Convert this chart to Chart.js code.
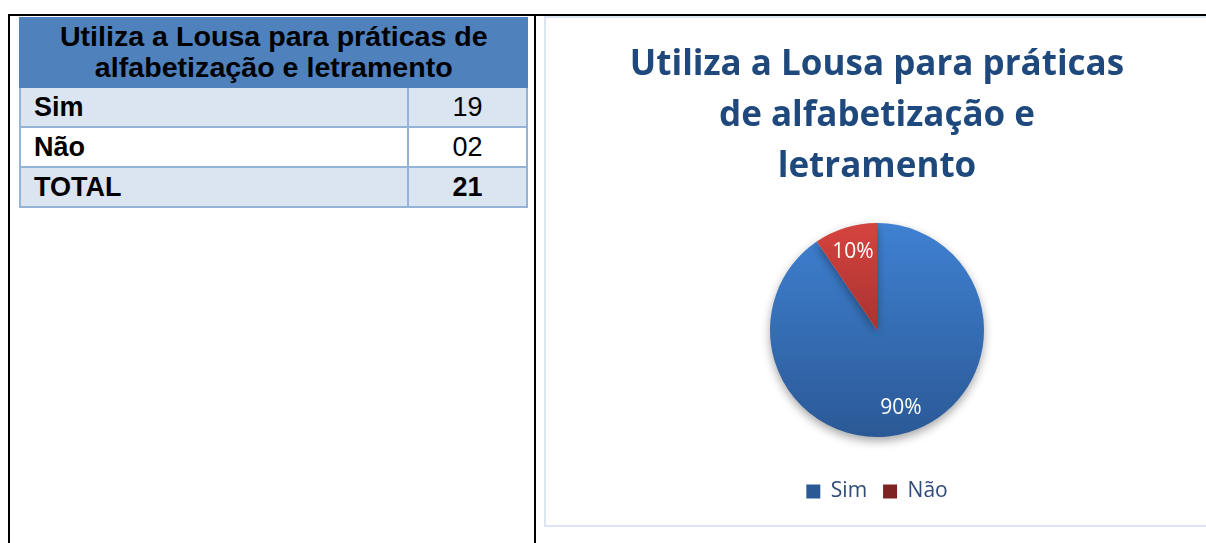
<!DOCTYPE html>
<html>
<head>
<meta charset="utf-8">
<script src="https://cdn.jsdelivr.net/npm/chart.js@4.4.1/dist/chart.umd.min.js"></script>
<style>
  html, body { margin: 0; padding: 0; background: #fff; width: 1206px; height: 543px; overflow: hidden; }
  .rule { position: absolute; background: #000; }
  #tbl {
    position: absolute; left: 19px; top: 17px; width: 507px;
    border-collapse: collapse; table-layout: fixed;
    font-family: "Liberation Sans", Arial, sans-serif; font-size: 27px; color: #000;
  }
  #tbl th {
    background: #4F81BD; font-weight: bold; height: 67px; padding: 0;
    line-height: 31px; text-align: center; border: 2px solid #4F81BD;
  }
  #tbl th span { display: inline-block; transform: scaleX(1.06); }
  #tbl td { border: 2px solid #95B3D7; height: 38px; padding: 0; line-height: 28px; }
  #tbl td.lbl { font-weight: bold; padding-left: 13px; }
  #tbl td.val { text-align: center; }
  #tbl tr.shade td { background: #DBE5F1; }
  #tbl tr.total td { font-weight: bold; }
  #box {
    position: absolute; left: 544px; top: 16px; width: 662px; height: 507px;
    border: 2px solid #DAE4F2;
  }
</style>
</head>
<body>
<div class="rule" style="left:9px; top:14px; width:1197px; height:2px;"></div>
<div class="rule" style="left:8px; top:14px; width:2px; height:529px;"></div>
<div class="rule" style="left:534px; top:14px; width:2px; height:529px;"></div>

<table id="tbl">
  <colgroup><col style="width:388px"><col style="width:119px"></colgroup>
  <thead><tr><th colspan="2" id="tblHead"></th></tr></thead>
  <tbody id="tblBody"></tbody>
</table>

<div id="box"><canvas id="pieChart" width="662" height="507"></canvas></div>

<script>
// dados
const tableTitle = ['Utiliza a Lousa para práticas de', 'alfabetização e letramento'];
const chartTitle = ['Utiliza a Lousa para práticas', 'de alfabetização e', 'letramento'];
const categories = ['Sim', 'Não'];
const counts = [19, 2];
const countLabels = ['19', '02'];
const totalLabel = 'TOTAL';
const totalValue = 21;

// cores (topo / base do gradiente)
const topColors = ['#3F81D2', '#D5433F'];
const bottomColors = ['#2B5996', '#7E2322'];
const PIE_R = 107;

document.addEventListener("DOMContentLoaded", () => {
  // tabela da esquerda
  document.getElementById('tblHead').innerHTML = tableTitle.map(t => '<span>' + t + '</span>').join('<br>');
  const body = document.getElementById('tblBody');
  const rows = categories.map((c, i) => [c, countLabels[i], i % 2 === 0 ? 'shade' : '']);
  rows.push([totalLabel, String(totalValue), 'shade total']);
  rows.forEach(r => {
    const tr = document.createElement('tr');
    tr.className = r[2];
    tr.innerHTML = '<td class="lbl">' + r[0] + '</td><td class="val">' + r[1] + '</td>';
    body.appendChild(tr);
  });

  const total = counts.reduce((a, b) => a + b, 0);

  const fill = (c) => {
    const area = c.chart.chartArea;
    if (!area) return topColors[c.dataIndex];
    const cy = (area.top + area.bottom) / 2;
    const g = c.chart.ctx.createLinearGradient(0, cy - PIE_R, 0, cy + PIE_R);
    g.addColorStop(0, topColors[c.dataIndex]);
    g.addColorStop(1, bottomColors[c.dataIndex]);
    return g;
  };

  // sombra + rótulos de porcentagem
  const pieDecor = {
    id: 'pieDecor',
    beforeDatasetsDraw(chart) {
      const ctx = chart.ctx;
      ctx.save();
      ctx.shadowColor = 'rgba(0,0,0,0.35)';
      ctx.shadowBlur = 10;
      ctx.shadowOffsetY = 4;
    },
    afterDatasetsDraw(chart) {
      const ctx = chart.ctx;
      ctx.restore();
      ctx.save();
      ctx.fillStyle = '#fff';
      ctx.font = '21px "Open Sans"';
      ctx.textAlign = 'center';
      ctx.textBaseline = 'middle';
      chart.getDatasetMeta(0).data.forEach((arc, i) => {
        const p = arc.getProps(['x', 'y', 'startAngle', 'endAngle', 'outerRadius'], true);
        const mid = (p.startAngle + p.endAngle) / 2;
        const r = p.outerRadius * 0.76;
        ctx.fillText(Math.round(counts[i] / total * 100) + '%', p.x + Math.cos(mid) * r, p.y + Math.sin(mid) * r);
      });
      ctx.restore();
    }
  };

  new Chart(document.getElementById('pieChart').getContext('2d'), {
    type: 'pie',
    data: {
      labels: categories,
      datasets: [{ data: counts, backgroundColor: fill, borderWidth: 0, radius: PIE_R }]
    },
    options: {
      responsive: false,
      animation: false,
      events: [],
      layout: { padding: { bottom: 13 } },
      plugins: {
        title: {
          display: true,
          text: chartTitle,
          color: '#1F497D',
          font: { family: '"Open Sans"', size: 35, weight: 'bold', lineHeight: 51 / 35 },
          padding: { top: 22, bottom: 2 }
        },
        legend: {
          position: 'bottom',
          labels: {
            color: '#2E4A78',
            font: { family: '"Open Sans"', size: 21 },
            boxWidth: 14, boxHeight: 14, padding: 16
          }
        },
        tooltip: { enabled: false }
      }
    },
    plugins: [pieDecor]
  });
});
</script>
</body>
</html>
